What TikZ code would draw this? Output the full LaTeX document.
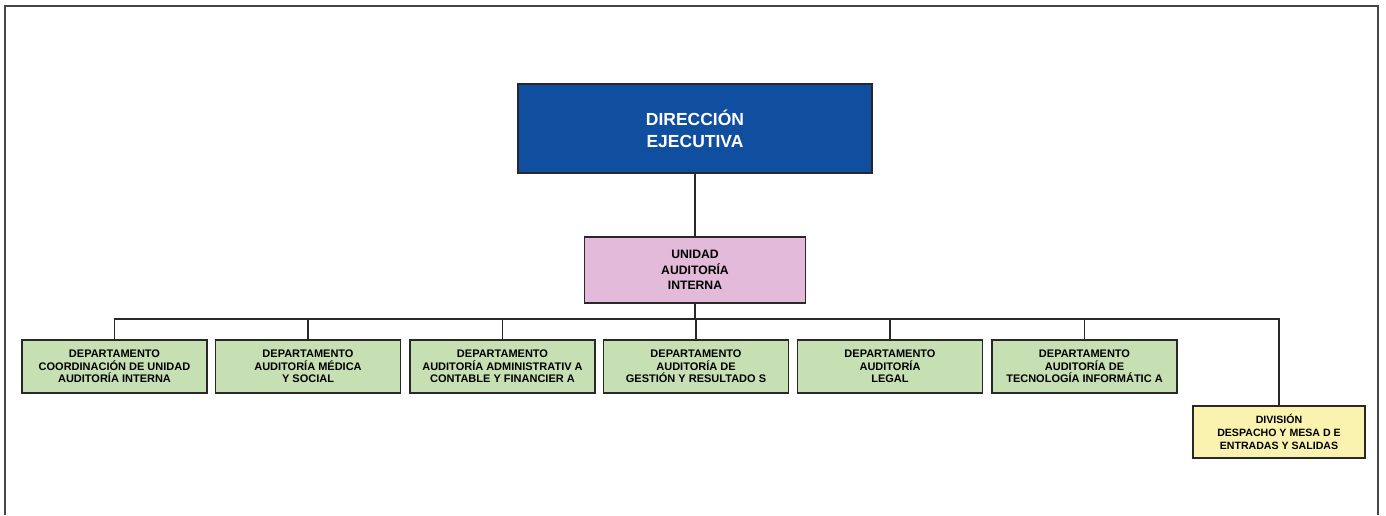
\documentclass[tikz,border=0pt]{standalone}
\usepackage{fontspec}
\setmainfont{Liberation Sans}
\usepackage{tikz}
\definecolor{dir_blue}{RGB}{16,78,160}
\definecolor{unit_pink}{RGB}{228,186,218}
\definecolor{dept_green}{RGB}{198,224,180}
\definecolor{div_yellow}{RGB}{250,243,176}
\definecolor{edge_gray}{RGB}{40,40,40}
\definecolor{frame_gray}{RGB}{70,70,70}

\begin{document}
\begin{tikzpicture}[x=1pt,y=-1pt,line width=1.2pt]
    \tikzstyle{box}=[draw=edge_gray, rectangle, inner sep=0pt, align=center, text=black, font=\bfseries\fontsize{11}{12.5}\selectfont]
    \tikzstyle{direccion}=[style=box, fill=dir_blue, text=white, minimum width=354, minimum height=89, font=\bfseries\fontsize{17.5}{22}\selectfont]
    \tikzstyle{unidad}=[style=box, fill=unit_pink, minimum width=221, minimum height=66, font=\bfseries\fontsize{12.2}{15.5}\selectfont]
    \tikzstyle{depto}=[style=box, fill=dept_green, minimum width=185, minimum height=53]
    \tikzstyle{division}=[style=box, fill=div_yellow, minimum width=172, minimum height=52, font=\bfseries\fontsize{10.6}{12.8}\selectfont]
    \tikzstyle{link}=[draw=edge_gray, line width=1.2pt]

    \useasboundingbox (0,0) rectangle (1386,515);
    % outer frame, open at the bottom
    \draw[frame_gray, line width=1.6pt] (5,515) -- (5,6) -- (1378,6) -- (1378,515);

    \node[direccion] (DIR) at (695,128.5) {DIRECCIÓN\\EJECUTIVA};
    \node[unidad]    (UAI) at (695,270)   {UNIDAD\\AUDITORÍA\\INTERNA};

    \node[depto] (D1) at (114.5,366.5) {DEPARTAMENTO\\COORDINACIÓN DE UNIDAD\\AUDITORÍA INTERNA};
    \node[depto] (D2) at (308,366.5)   {DEPARTAMENTO\\AUDITORÍA MÉDICA\\Y SOCIAL};
    \node[depto] (D3) at (502.5,366.5) {DEPARTAMENTO\\AUDITORÍA ADMINISTRATIV A\\CONTABLE Y FINANCIER A};
    \node[depto] (D4) at (696,366.5)   {DEPARTAMENTO\\AUDITORÍA DE\\GESTIÓN Y RESULTADO S};
    \node[depto] (D5) at (890,366.5)   {DEPARTAMENTO\\AUDITORÍA\\LEGAL};
    \node[depto] (D6) at (1084.5,366.5) {DEPARTAMENTO\\AUDITORÍA DE\\TECNOLOGÍA INFORMÁTIC A};
    \node[division] (DIV) at (1279,432) {DIVISIÓN\\DESPACHO Y MESA D E\\ENTRADAS Y SALIDAS};

    \coordinate (bus) at (695,319);

    \path[link]
     (DIR) edge (UAI)
     (UAI) edge (bus);
    \foreach \n in {D1,D2,D3,D4,D5,D6,DIV}
      \draw[link] (\n.north) -- (\n.north |- bus) -- (bus);
\end{tikzpicture}
\end{document}
